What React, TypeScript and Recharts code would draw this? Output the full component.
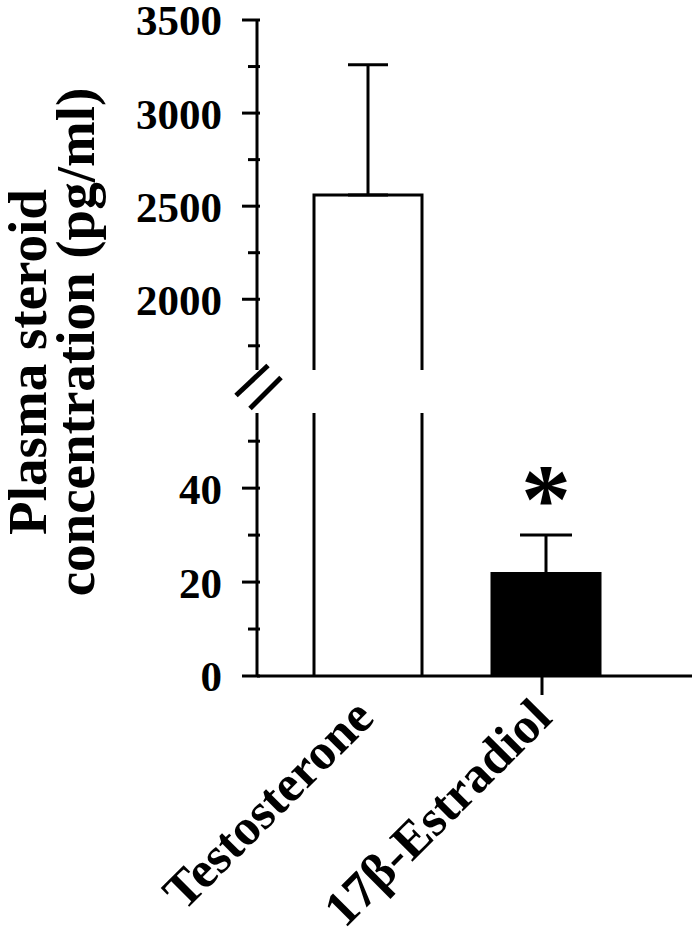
import React from "react";
import { BarChart, Bar, XAxis, YAxis, ErrorBar, LabelList } from "recharts";

// values (mean + upper SEM, pg/ml)
const categories = ["Testosterone", "17β-Estradiol"];
const means = [2560, 21.8];
const semUpper = [700, 8.2];
const marks = ["", "*"];
const fills = ["#ffffff", "#000000"];
const xTickMarks = [false, true];

// broken y axis: two panels
const upperDomain = [1620, 3500];
const upperTicks = [1750, 2000, 2250, 2500, 2750, 3000, 3250, 3500];
const lowerDomain = [0, 56];
const lowerTicks = [0, 10, 20, 30, 40, 50];

const W = 699;
const H = 948;
const AXIS_X = 257;
const UPPER_TOP = 20;
const UPPER_BOTTOM = 370;
const LOWER_TOP = 413;
const LOWER_BOTTOM = 676;
const FONT = "'Times New Roman', 'Liberation Serif', serif";

function panelData(domain: number[]) {
  return categories.map((name, i) => {
    const inRange = means[i] > domain[0];
    const topVisible = means[i] <= domain[1];
    return {
      name,
      value: inRange ? means[i] : null,
      err: inRange && topVisible ? [0, semUpper[i]] : null,
      mark: inRange && topVisible ? marks[i] : "",
      fill: fills[i],
      overflow: !topVisible,
    };
  });
}

const upperData = panelData(upperDomain);
const lowerData = panelData(lowerDomain);

// open-topped outline when the bar runs past the panel
function BarShape(props: any) {
  const { x, y, width, height, payload, background } = props;
  if (!payload || payload.value == null || !height) return null;
  let top = Math.min(y, y + height);
  let bottom = Math.max(y, y + height);
  if (background) {
    top = Math.max(top, background.y);
    bottom = Math.min(bottom, background.y + background.height);
  }
  const d = payload.overflow
    ? `M${x},${bottom}V${top}M${x + width},${top}V${bottom}`
    : `M${x},${bottom}V${top}H${x + width}V${bottom}`;
  return (
    <g>
      <rect x={x} y={top} width={width} height={bottom - top} fill={payload.fill} />
      <path d={d} fill="none" stroke="#000" strokeWidth={3} />
    </g>
  );
}

const makeYTick = (step: number) => (props: any) => {
  const { x, y, payload } = props;
  const major = payload.value % step === 0;
  return (
    <g>
      <line x1={x - (major ? 15 : 9)} x2={x + 3} y1={y} y2={y} stroke="#000" strokeWidth={3} />
      {major && (
        <text x={x - 35} y={y} dy="0.36em" textAnchor="end" fontFamily={FONT} fontWeight="bold" fontSize={43} fill="#000">
          {payload.value}
        </text>
      )}
    </g>
  );
};

function XTick(props: any) {
  const { x, y, payload, index } = props;
  return (
    <g>
      {xTickMarks[index] && <line x1={x - 4} x2={x - 4} y1={y} y2={y + 19} stroke="#000" strokeWidth={3} />}
      <text
        transform={`translate(${x + 8},${y + 44}) rotate(-45)`}
        textAnchor="end"
        fontFamily={FONT}
        fontWeight="bold"
        fontSize={51}
        fill="#000"
      >
        {payload.value}
      </text>
    </g>
  );
}

const xPadding = { left: 22, right: 57 };
const axisStyle = { stroke: "#000", strokeWidth: 3 };

export default function App() {
  const midY = (UPPER_BOTTOM + LOWER_TOP) / 2;
  return (
    <div style={{ position: "absolute", left: 0, top: 0, width: W, height: H, background: "#fff" }}>
      <div style={{ position: "absolute", left: 0, top: 0 }}>
        <BarChart
          width={W}
          height={UPPER_BOTTOM + 10}
          data={upperData}
          margin={{ top: UPPER_TOP, right: W - 692, bottom: 10, left: 0 }}
          barSize={108}
        >
          <XAxis dataKey="name" hide padding={xPadding} />
          <YAxis
            type="number"
            domain={upperDomain}
            allowDataOverflow
            ticks={upperTicks}
            interval={0}
            width={AXIS_X}
            tickSize={0}
            tickMargin={0}
            tickLine={false}
            axisLine={axisStyle}
            tick={makeYTick(500)}
          />
          <Bar dataKey="value" isAnimationActive={false} shape={(p: any) => <BarShape {...p} />}>
            <ErrorBar dataKey="err" direction="y" width={20} stroke="#000" strokeWidth={3} isAnimationActive={false} />
          </Bar>
        </BarChart>
      </div>
      <div style={{ position: "absolute", left: 0, top: 0 }}>
        <BarChart
          width={W}
          height={H}
          data={lowerData}
          margin={{ top: LOWER_TOP, right: W - 692, bottom: 12, left: 0 }}
          barSize={108}
        >
          <XAxis
            dataKey="name"
            padding={xPadding}
            height={H - LOWER_BOTTOM - 12}
            interval={0}
            tickSize={0}
            tickMargin={0}
            tickLine={false}
            axisLine={axisStyle}
            tick={<XTick />}
          />
          <YAxis
            type="number"
            domain={lowerDomain}
            allowDataOverflow
            ticks={lowerTicks}
            interval={0}
            width={AXIS_X}
            tickSize={0}
            tickMargin={0}
            tickLine={false}
            axisLine={axisStyle}
            tick={makeYTick(20)}
          />
          <Bar dataKey="value" isAnimationActive={false} shape={(p: any) => <BarShape {...p} />}>
            <ErrorBar dataKey="err" direction="y" width={26} stroke="#000" strokeWidth={3} isAnimationActive={false} />
            <LabelList dataKey="mark" position="top" offset={42} fill="#000" fontSize={100} fontWeight="bold" fontFamily={FONT} />
          </Bar>
        </BarChart>
      </div>
      <svg width={W} height={H} style={{ position: "absolute", left: 0, top: 0, pointerEvents: "none" }}>
        {/* axis break marks */}
        <line x1={AXIS_X - 21} y1={midY + 4} x2={AXIS_X + 11} y2={midY - 26} stroke="#000" strokeWidth={5} />
        <line x1={AXIS_X - 7} y1={midY + 17} x2={AXIS_X + 24} y2={midY - 14} stroke="#000" strokeWidth={5} />
        <g fontFamily={FONT} fontWeight="bold" fontSize={55} fill="#000" textAnchor="middle">
          <text transform="translate(46,362) rotate(-90)">Plasma steroid</text>
          <text transform="translate(94,342) rotate(-90)">concentration (pg/ml)</text>
        </g>
      </svg>
    </div>
  );
}
